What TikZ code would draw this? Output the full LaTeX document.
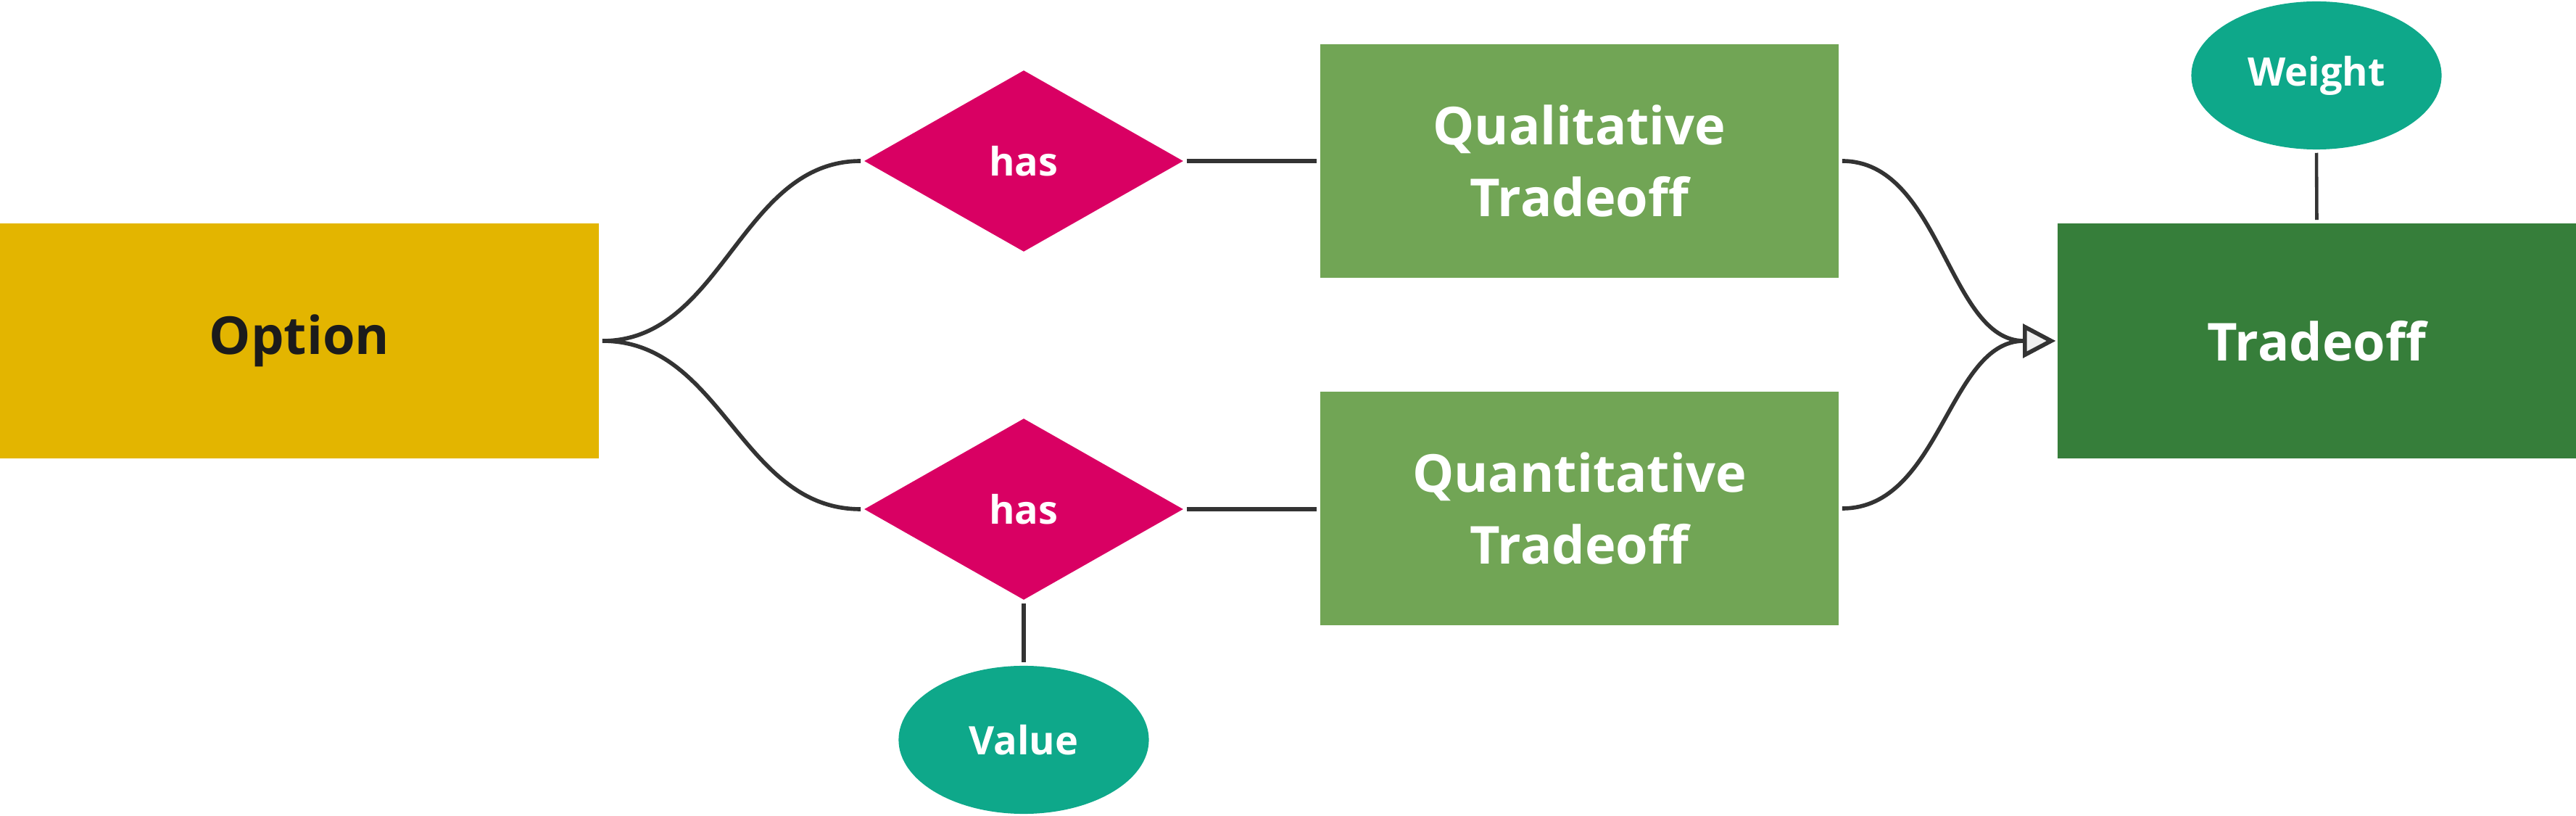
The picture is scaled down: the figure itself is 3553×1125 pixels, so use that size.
\documentclass[tikz,border=0pt]{standalone}
\usepackage{fontspec}
\setmainfont{Open Sans}
\usetikzlibrary{shapes.geometric,arrows.meta}
\definecolor{optcol}{HTML}{E3B500}
\definecolor{hascol}{HTML}{D90063}
\definecolor{lgreen}{HTML}{71A555}
\definecolor{dgreen}{HTML}{367E3A}
\definecolor{teal}{HTML}{0EA88A}
\definecolor{linecol}{HTML}{333333}
\definecolor{arrfill}{HTML}{F0F0F0}
\definecolor{darktext}{HTML}{1B1B1B}
\tikzset{
  bigtxt/.style={font=\bfseries\fontsize{20.5pt}{28pt}\selectfont},
  smalltxt/.style={font=\bfseries\fontsize{15.4pt}{20pt}\selectfont},
  entitybox/.style={rectangle, inner sep=0pt, minimum width=7.15cm, minimum height=3.22cm, text=white, bigtxt, align=center},
  relbox/.style={diamond, inner sep=0pt, minimum width=4.4cm, minimum height=2.5cm, fill=hascol, text=white, smalltxt},
  attrbox/.style={ellipse, inner sep=0pt, minimum width=3.45cm, minimum height=2.04cm, fill=teal, text=white, smalltxt},
  conn/.style={draw=linecol, line width=1.6pt, shorten <=0.04cm, shorten >=0.04cm},
  arrconn/.style={draw=linecol, line width=1.6pt, shorten <=0.04cm, shorten >=0.02cm,
    -{Triangle[length=0.45cm, width=0.46cm, fill=arrfill]}}
}
\begin{document}
\begin{tikzpicture}[x=0.01cm, y=-0.01cm]
\useasboundingbox (0,0) rectangle (3553,1125);
\node[entitybox, fill=optcol, text=darktext, minimum width=8.26cm, minimum height=3.24cm] (opt) at (413,470) {Option};
\node[relbox] (has1) at (1412,222) {has};
\node[relbox] (has2) at (1412,702) {has};
\node[entitybox, fill=lgreen] (qual) at (2178.5,222) {Qualitative\\Tradeoff};
\node[entitybox, fill=lgreen] (quant) at (2178.5,701) {Quantitative\\Tradeoff};
\node[entitybox, fill=dgreen, minimum height=3.24cm] (trade) at (3195.5,470) {Tradeoff};
\node[attrbox] (weight) at (3195,104) {Weight};
\node[attrbox] (value) at (1412,1020) {Value};

\draw[conn] (opt.east) .. controls +(170,0) and +(-170,0) .. (has1.west);
\draw[conn] (opt.east) .. controls +(170,0) and +(-170,0) .. (has2.west);
\draw[conn] (has1.east) -- (qual.west |- has1.east);
\draw[conn] (has2.east) -- (quant.west |- has2.east);
\draw[conn] (has2.south) -- (value.north);
\draw[conn, line width=1.3pt] (weight.south) -- (trade.north);
\draw[arrconn] (qual.east) .. controls +(140,0) and +(-150,0) .. (trade.west);
\draw[arrconn] (quant.east) .. controls +(140,0) and +(-150,0) .. (trade.west);
\end{tikzpicture}
\end{document}
